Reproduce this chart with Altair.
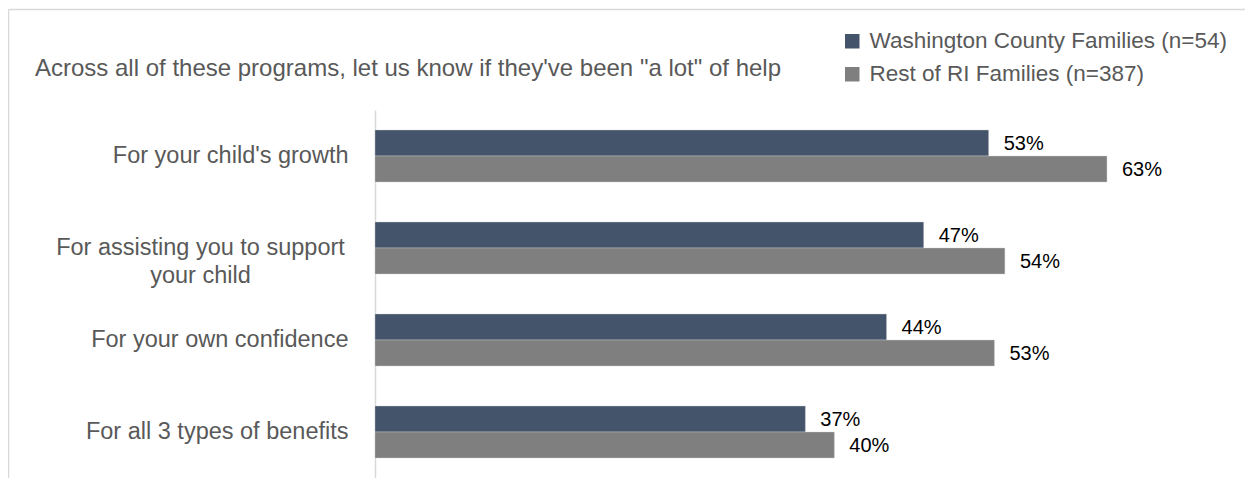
import altair as alt
import pandas as pd

# ---- data ----
categories = [
    "For your child's growth",
    "For assisting you to support your child",
    "For your own confidence",
    "For all 3 types of benefits",
]
series = ["Washington County Families (n=54)", "Rest of RI Families (n=387)"]
washington = [52.9, 47.3, 44.1, 37.1]
rest_ri = [63.1, 54.3, 53.4, 39.6]
colors = ["#44546A", "#7F7F7F"]
title_text = 'Across all of these programs, let us know if they\'ve been "a lot" of help'

FONT = "Liberation Sans, Arial, Helvetica, sans-serif"

rows = []
for c, w, r in zip(categories, washington, rest_ri):
    rows.append({"category": c, "series": series[0], "value": w, "label": f"{round(w)}%"})
    rows.append({"category": c, "series": series[1], "value": r, "label": f"{round(r)}%"})
df = pd.DataFrame(rows)

two_line = categories[1]
label_expr = (
    f"datum.value == '{two_line}' ? ['For assisting you to support', 'your child'] : datum.label"
)

y_enc = alt.Y(
    "category:N",
    sort=categories,
    scale=alt.Scale(paddingInner=0.435, paddingOuter=0.2175),
    axis=alt.Axis(
        title=None,
        ticks=False,
        domainColor="#d9d9d9",
        domainWidth=1.5,
        labelFont=FONT,
        labelFontSize=23.5,
        labelColor="#595959",
        labelLimit=500,
        labelLineHeight=28,
        labelExpr=label_expr,
        labelAlign={"condition": {"test": f"datum.value == '{two_line}'", "value": "center"}, "value": "right"},
        labelPadding={"condition": {"test": f"datum.value == '{two_line}'", "value": 175}, "value": 27},
    ),
)
x_enc = alt.X("value:Q", scale=alt.Scale(domain=[0, 75]), axis=None)
yoff = alt.YOffset("series:N", sort=series)

base = alt.Chart(df)

bars = base.mark_bar(stroke="#d0d0d0", strokeWidth=0.4).encode(
    y=y_enc,
    x=x_enc,
    yOffset=yoff,
    color=alt.Color(
        "series:N",
        sort=series,
        scale=alt.Scale(domain=series, range=colors),
        legend=alt.Legend(
            title=None,
            orient="none",
            legendX=466,
            legendY=-80,
            padding=0,
            symbolType="square",
            symbolSize=210,
            symbolStrokeWidth=0,
            labelFont=FONT,
            labelFontSize=22.5,
            labelColor="#595959",
            labelLimit=500,
            labelOffset=6,
            rowPadding=10,
        ),
    ),
)

labels = base.mark_text(
    align="left", baseline="middle", dx=15, dy=1, font=FONT, fontSize=20, color="#000000"
).encode(y=y_enc, x=x_enc, yOffset=yoff, text="label:N")

one = alt.Data(values=[{"t": title_text}])
title_mark = alt.Chart(one).mark_text(
    align="left", baseline="alphabetic", font=FONT, fontSize=24, color="#595959"
).encode(x=alt.value(-340), y=alt.value(-34), text="t:N")

frame_top = alt.Chart(one).mark_rule(color="#d9d9d9", strokeWidth=1.5).encode(
    x=alt.value(-366.5), x2=alt.value(900), y=alt.value(-100.5)
)
frame_left = alt.Chart(one).mark_rule(color="#d9d9d9", strokeWidth=1.5).encode(
    x=alt.value(-366.5), y=alt.value(-100.5), y2=alt.value(420)
)

chart = (
    alt.layer(frame_top, frame_left, title_mark, bars, labels)
    .properties(
        width=870,
        height=368,
        autosize=alt.AutoSizeParams(type="none"),
        padding={"left": 367, "top": 102, "right": 0, "bottom": 0},
    )
    .configure_view(stroke=None)
)

chart.save("out.html", embed_options={"renderer": "svg", "actions": False})
